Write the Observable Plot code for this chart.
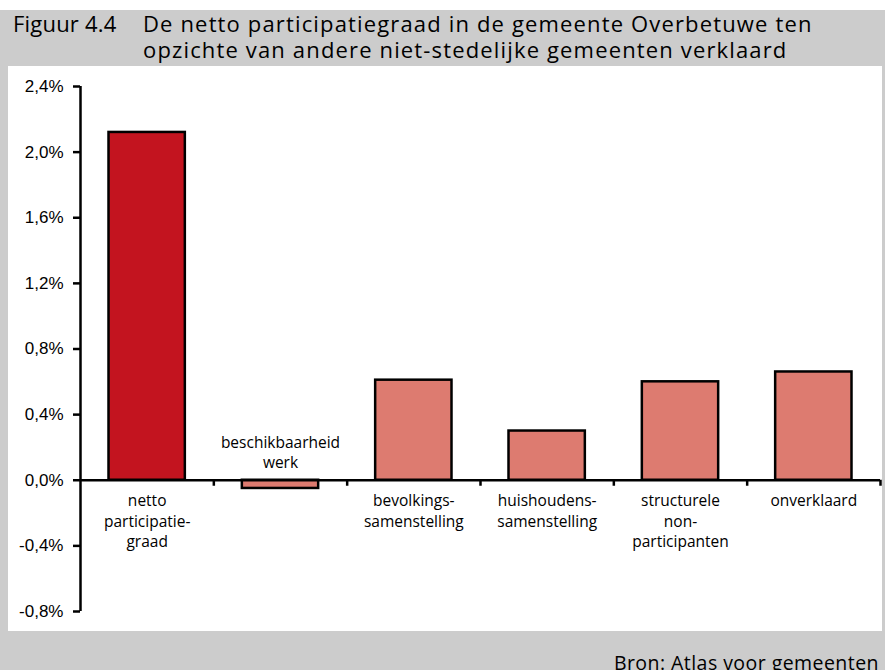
<!DOCTYPE html>
<html>
<head>
<meta charset="utf-8">
<script src="https://cdn.jsdelivr.net/npm/d3@7"></script>
<script src="https://cdn.jsdelivr.net/npm/@observablehq/plot@0.6"></script>
<style>
  html, body { margin: 0; padding: 0; }
  body { width: 885px; height: 670px; background: #fff; position: relative; overflow: hidden; font-family: "Open Sans", "Noto Sans", sans-serif; }
  #frame { position: absolute; left: 0; top: 10px; width: 885px; height: 660px; background: #cccccc; }
  #title { position: absolute; left: 13px; top: 10px; font-size: 22px; line-height: 26px; letter-spacing: 1.15px; color: #000; white-space: nowrap; }
  #title .num { display: inline-block; width: 130px; letter-spacing: 0.2px; }
  #title .l2 { padding-left: 130px; }
  #panel { position: absolute; left: 8px; top: 66px; width: 874px; height: 565px; background: #fff; }
  #caption { position: absolute; right: 6px; top: 653px; font-size: 19.5px; line-height: 19px; letter-spacing: 0.45px; color: #000; white-space: nowrap; }
</style>
</head>
<body>
<div id="frame"></div>
<div id="title"><div><span class="num">Figuur 4.4</span>De netto participatiegraad in de gemeente Overbetuwe ten</div><div class="l2">opzichte van andere niet-stedelijke gemeenten verklaard</div></div>
<div id="panel"></div>
<div id="caption">Bron: Atlas voor gemeenten</div>
<script>
const categories = [
  "netto\nparticipatie-\ngraad",
  "beschikbaarheid\nwerk",
  "bevolkings-\nsamenstelling",
  "huishoudens-\nsamenstelling",
  "structurele\nnon-\nparticipanten",
  "onverklaard"
];
const values = [2.12, -0.05, 0.61, 0.30, 0.60, 0.66];
const colors = ["#c3141f", "#dd7b70", "#dd7b70", "#dd7b70", "#dd7b70", "#dd7b70"];
const yTicks = [-0.8, -0.4, 0, 0.4, 0.8, 1.2, 1.6, 2.0, 2.4];

const data = categories.map((c, i) => ({label: c, value: values[i], color: colors[i], i}));
const bounds = d3.range(1, categories.length + 1);
const fmt = d => d3.format(".1f")(d).replace(".", ",").replace("−", "-") + "%";
const labelFont = "Open Sans, Noto Sans, sans-serif";

const chart = Plot.plot({
  width: 874,
  height: 565,
  marginLeft: 72,
  marginRight: 2,
  marginTop: 20,
  marginBottom: 20,
  style: {background: "transparent", overflow: "visible"},
  x: {domain: [0, categories.length], axis: null},
  y: {domain: [-0.8, 2.4], axis: null, label: null},
  marks: [
    Plot.rectY(data, {x1: "i", x2: d => d.i + 1, y1: 0, y2: "value", fill: "color", stroke: "#000", strokeWidth: 2.5, insetLeft: 28.5, insetRight: 28.5}),
    Plot.ruleY([0], {x1: 0, x2: categories.length, stroke: "#000", strokeWidth: 2.5}),
    Plot.ruleX(bounds, {x: d => d, y1: 0, y2: 0, insetBottom: -6, stroke: "#000", strokeWidth: 2.5}),
    Plot.ruleX([0], {y1: -0.8, y2: 2.4, stroke: "#000", strokeWidth: 2.5}),
    Plot.axisY({ticks: yTicks, tickFormat: fmt, label: null, tickSize: 7, tickPadding: 10, strokeWidth: 2.5, fontSize: 17, fontFamily: "Liberation Sans, Arial, sans-serif", fill: "#000"}),
    Plot.text(data.filter(d => d.value >= 0), {x: d => d.i + 0.5, y: 0, text: "label", lineAnchor: "top", dy: 11, fontSize: 15.5, lineHeight: 1.33, fill: "#000", fontFamily: labelFont}),
    Plot.text(data.filter(d => d.value < 0), {x: d => d.i + 0.5, y: 0, text: "label", lineAnchor: "bottom", dy: -12, fontSize: 15.5, lineHeight: 1.33, fill: "#000", fontFamily: labelFont})
  ]
});
document.getElementById("panel").appendChild(chart);
</script>
</body>
</html>
